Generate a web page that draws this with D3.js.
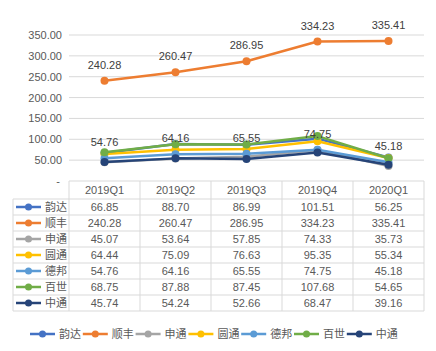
<!DOCTYPE html>
<html>
<head>
<meta charset="utf-8">
<script src="https://cdn.jsdelivr.net/npm/d3@7"></script>
<style>
  body { margin: 0; background: #fff; }
  text { font-family: "Liberation Sans", Arial, "Noto Sans CJK SC", sans-serif; }
</style>
</head>
<body>
<svg width="436" height="351"></svg>
<script>
// quarters and values per company
const quarters = ['2019Q1', '2019Q2', '2019Q3', '2019Q4', '2020Q1'];
const names = ['韵达', '顺丰', '申通', '圆通', '德邦', '百世', '中通'];
const colors = ['#4472C4', '#ED7D31', '#A5A5A5', '#FFC000', '#5B9BD5', '#70AD47', '#264478'];

const yunda = [66.85, 88.70, 86.99, 101.51, 56.25];
const shunfeng = [240.28, 260.47, 286.95, 334.23, 335.41];
const shentong = [45.07, 53.64, 57.85, 74.33, 35.73];
const yuantong = [64.44, 75.09, 76.63, 95.35, 55.34];
const debang = [54.76, 64.16, 65.55, 74.75, 45.18];
const baishi = [68.75, 87.88, 87.45, 107.68, 54.65];
const zhongtong = [45.74, 54.24, 52.66, 68.47, 39.16];

const yTicks = [0, 50, 100, 150, 200, 250, 300, 350];
const labeled = ['顺丰', '德邦']; // series that show data labels

const series = names.map((n, i) => ({
  name: n,
  color: colors[i],
  values: [yunda, shunfeng, shentong, yuantong, debang, baishi, zhongtong][i]
}));

const svg = d3.select('svg');

const x = d3.scaleBand().domain(quarters).range([69, 424]);
const y = d3.scaleLinear().domain([0, 350]).range([181, 35]);

// gridlines
svg.append('g')
  .selectAll('line')
  .data(yTicks.filter(d => d > 0))
  .join('line')
  .attr('x1', 69)
  .attr('x2', 424)
  .attr('y1', d => y(d))
  .attr('y2', d => y(d))
  .style('stroke', '#D9D9D9')
  .style('stroke-width', 1);

// y axis labels
svg.append('g')
  .selectAll('text')
  .data(yTicks)
  .join('text')
  .attr('x', d => d === 0 ? 60 : 62)
  .attr('y', d => y(d) + 4)
  .attr('text-anchor', 'end')
  .style('font-size', '11px')
  .style('fill', '#595959')
  .text(d => d === 0 ? '-' : d.toFixed(2));

const line = d3.line()
  .x((d, i) => x(quarters[i]) + x.bandwidth() / 2)
  .y(d => y(d));

const lines = svg.append('g')
  .selectAll('g')
  .data(series)
  .join('g');

lines.append('path')
  .attr('d', d => line(d.values))
  .style('fill', 'none')
  .style('stroke', d => d.color)
  .style('stroke-width', 2.5)
  .style('stroke-linejoin', 'round');

lines.selectAll('circle')
  .data(d => d.values.map(v => ({ v, color: d.color })))
  .join('circle')
  .attr('cx', (d, i) => x(quarters[i]) + x.bandwidth() / 2)
  .attr('cy', d => y(d.v))
  .attr('r', 4)
  .style('fill', d => d.color);

// data labels
svg.append('g')
  .selectAll('g')
  .data(series.filter(s => labeled.includes(s.name)))
  .join('g')
  .selectAll('text')
  .data(d => d.values)
  .join('text')
  .attr('x', (d, i) => x(quarters[i]) + x.bandwidth() / 2)
  .attr('y', d => y(d) - 12)
  .attr('text-anchor', 'middle')
  .style('font-size', '11px')
  .style('fill', '#404040')
  .text(d => d.toFixed(2));

// data table
const headerTop = 181, headerH = 18, rowH = 16;
const tableLeft = 13;
const table = svg.append('g');
const gridColor = '#D9D9D9';

// horizontal lines
table.append('line')
  .attr('x1', 69).attr('x2', 424)
  .attr('y1', headerTop).attr('y2', headerTop)
  .style('stroke', gridColor);
table.selectAll('line.h')
  .data(d3.range(names.length + 1))
  .join('line')
  .attr('class', 'h')
  .attr('x1', tableLeft).attr('x2', 424)
  .attr('y1', i => headerTop + headerH + i * rowH)
  .attr('y2', i => headerTop + headerH + i * rowH)
  .style('stroke', gridColor);

// vertical lines
const tableBottom = headerTop + headerH + names.length * rowH;
table.append('line')
  .attr('x1', tableLeft).attr('x2', tableLeft)
  .attr('y1', headerTop + headerH).attr('y2', tableBottom)
  .style('stroke', gridColor);
table.selectAll('line.v')
  .data(quarters.map(q => x(q)).concat([424]))
  .join('line')
  .attr('class', 'v')
  .attr('x1', d => d).attr('x2', d => d)
  .attr('y1', headerTop).attr('y2', tableBottom)
  .style('stroke', gridColor);

// header text
table.selectAll('text.hd')
  .data(quarters)
  .join('text')
  .attr('class', 'hd')
  .attr('x', d => x(d) + x.bandwidth() / 2)
  .attr('y', headerTop + headerH / 2 + 4)
  .attr('text-anchor', 'middle')
  .style('font-size', '11px')
  .style('fill', '#595959')
  .text(d => d);

const rows = table.selectAll('g.row')
  .data(series)
  .join('g')
  .attr('class', 'row')
  .attr('transform', (d, i) => `translate(0,${headerTop + headerH + i * rowH + rowH / 2})`);

rows.append('line')
  .attr('x1', 16).attr('x2', 41)
  .style('stroke', d => d.color)
  .style('stroke-width', 2.5);
rows.append('circle')
  .attr('cx', 28.5).attr('r', 3.5)
  .style('fill', d => d.color);
rows.append('text')
  .attr('x', 45)
  .attr('y', 4)
  .style('font-size', '11px')
  .style('font-family', '"Noto Sans CJK SC", sans-serif')
  .style('fill', '#595959')
  .text(d => d.name);
rows.selectAll('text.val')
  .data(d => d.values)
  .join('text')
  .attr('class', 'val')
  .attr('x', (d, i) => x(quarters[i]) + x.bandwidth() / 2)
  .attr('y', 4)
  .attr('text-anchor', 'middle')
  .style('font-size', '11px')
  .style('fill', '#595959')
  .text(d => d.toFixed(2));

// legend
const legendStep = 52.8;
const legend = svg.append('g')
  .attr('transform', 'translate(30,334)')
  .selectAll('g')
  .data(series)
  .join('g')
  .attr('transform', (d, i) => `translate(${i * legendStep},0)`);

legend.append('line')
  .attr('x1', 0).attr('x2', 25)
  .style('stroke', d => d.color)
  .style('stroke-width', 2.5);
legend.append('circle')
  .attr('cx', 12.5).attr('r', 3.5)
  .style('fill', d => d.color);
legend.append('text')
  .attr('x', 29)
  .attr('y', 4)
  .style('font-size', '11px')
  .style('font-family', '"Noto Sans CJK SC", sans-serif')
  .style('fill', '#595959')
  .text(d => d.name);
</script>
</body>
</html>
